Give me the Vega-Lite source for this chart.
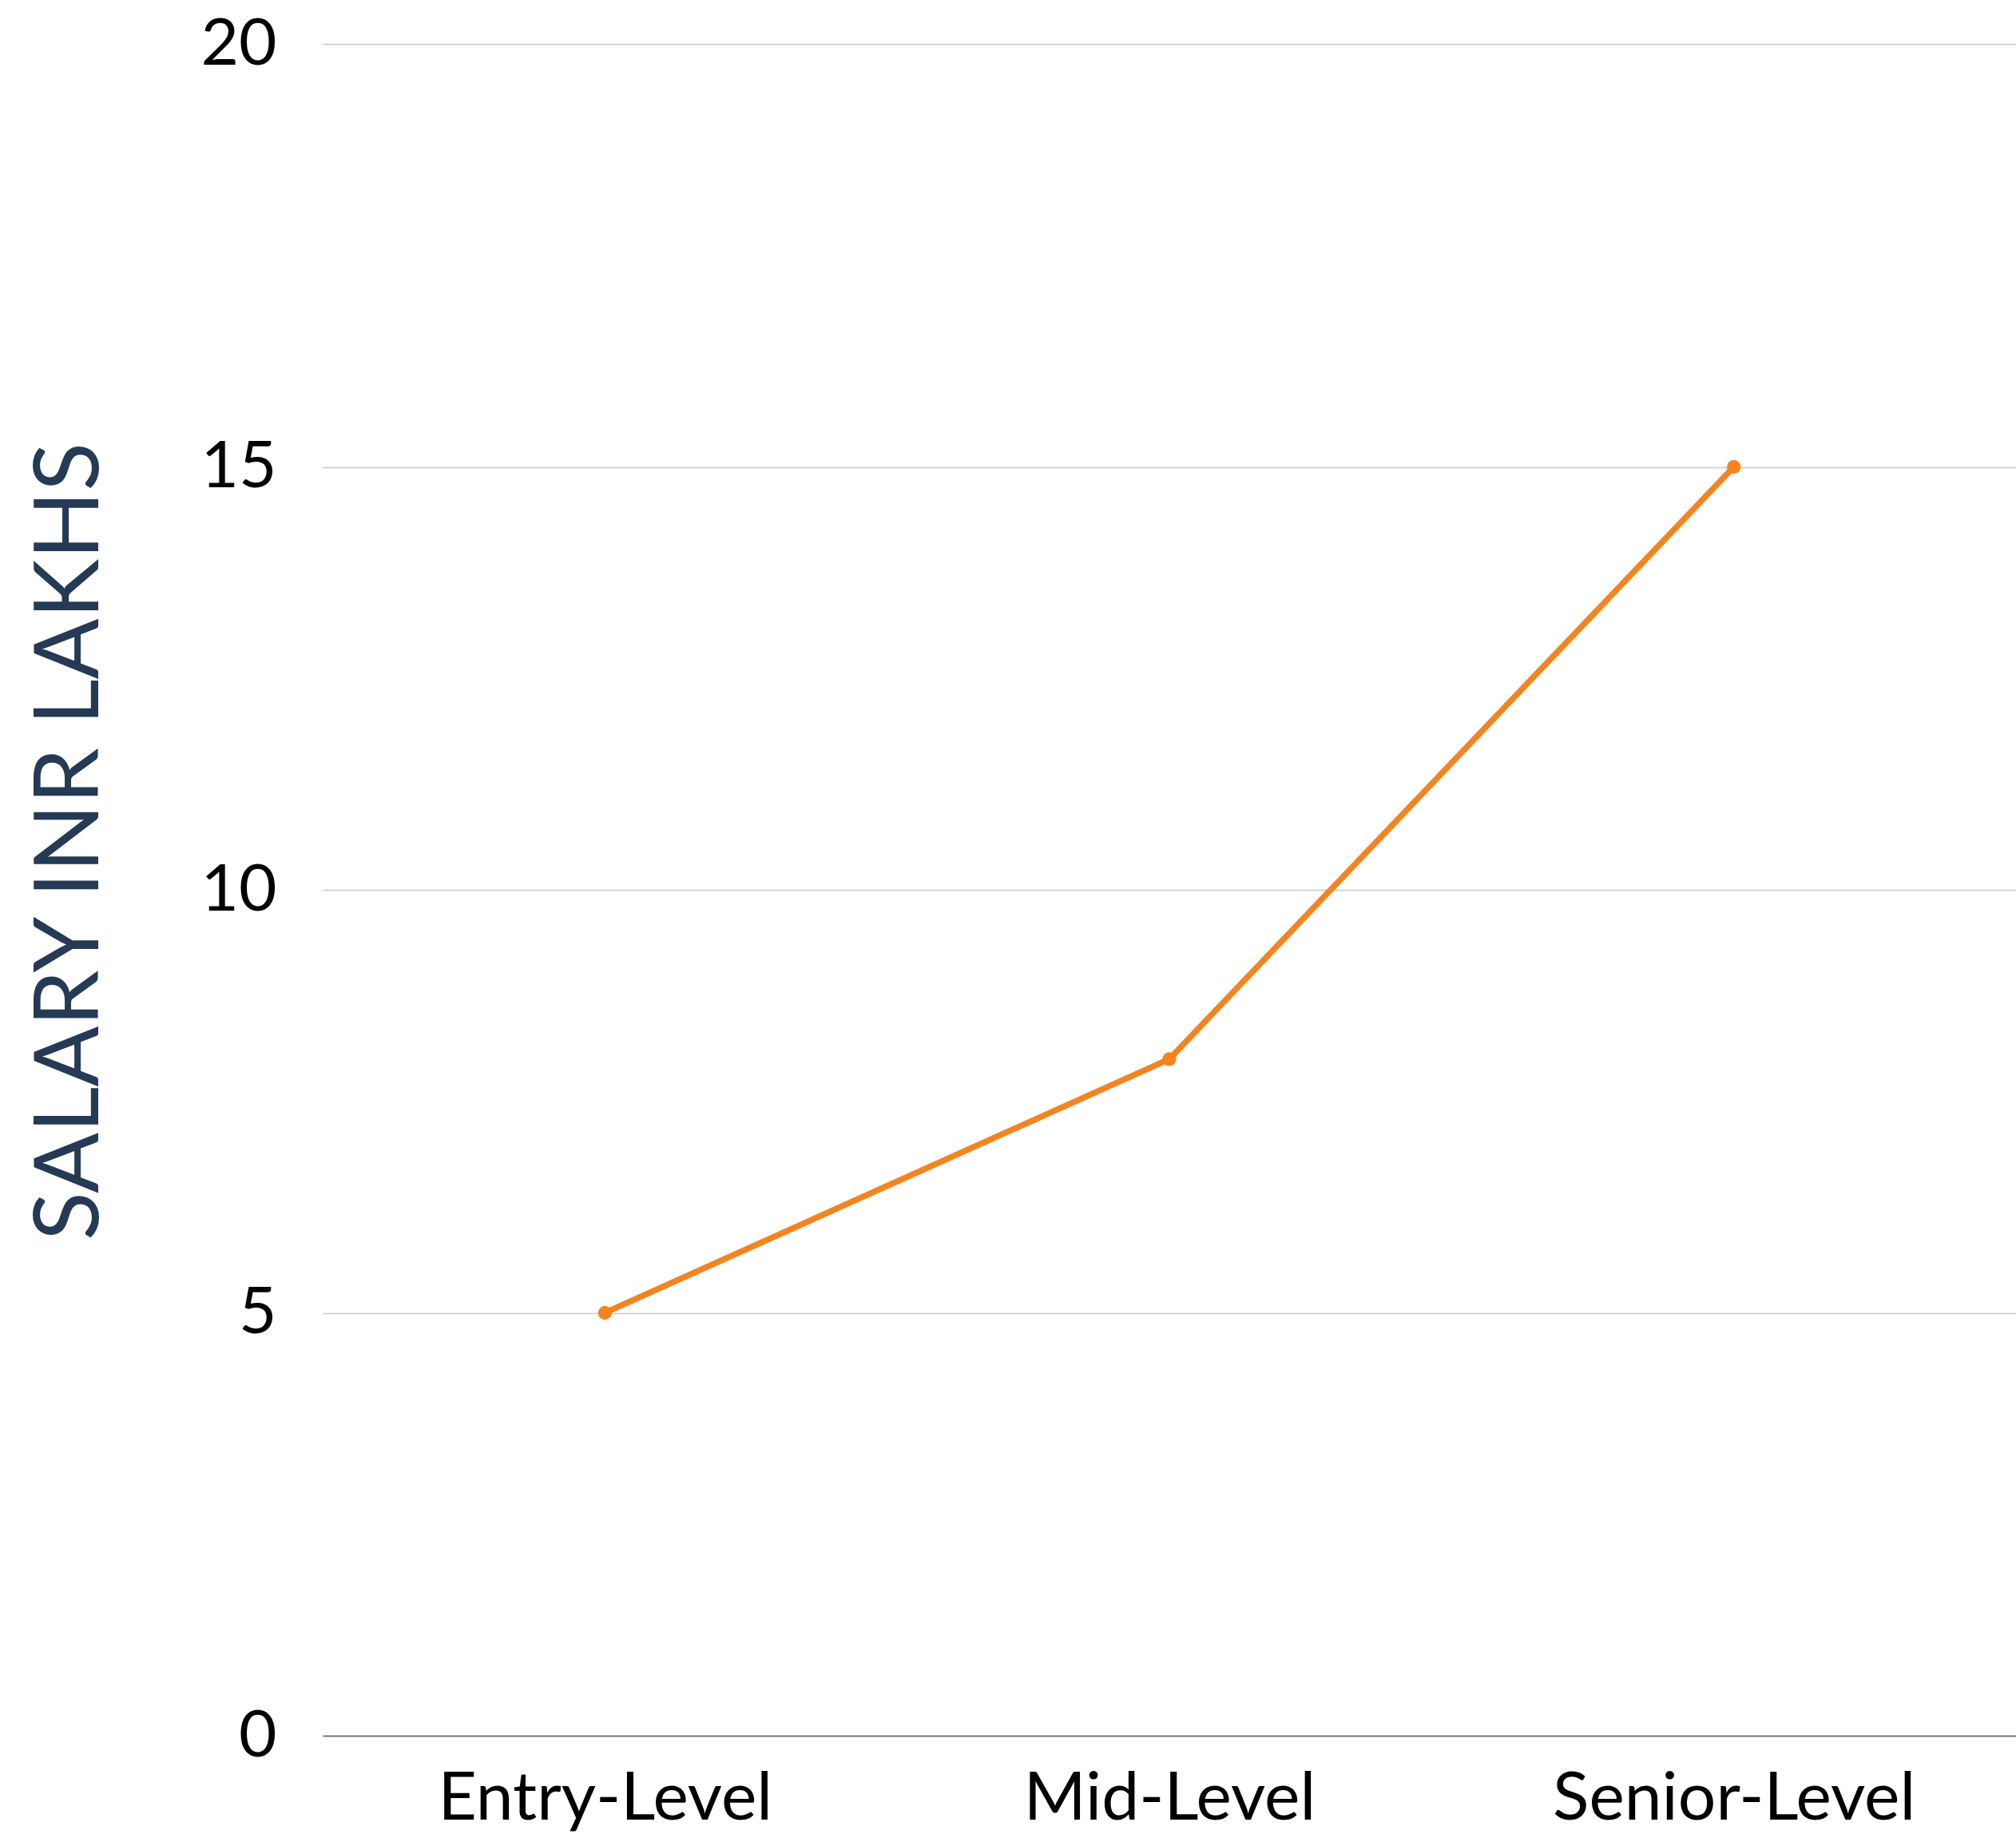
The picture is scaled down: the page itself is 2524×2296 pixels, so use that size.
{
  "$schema": "https://vega.github.io/schema/vega-lite/v6.json",
  "autosize": "none",
  "width": 2120,
  "height": 2118,
  "padding": {"left": 404, "top": 55, "right": 0, "bottom": 123},
  "background": "white",
  "config": {"view": {"stroke": null}, "font": "Lato"},
  "data": {
    "values": [
      {"level": "Entry-Level", "salary": 5},
      {"level": "Mid-Level", "salary": 8},
      {"level": "Senior-Level", "salary": 15}
    ]
  },
  "encoding": {
    "x": {
      "field": "level", "type": "ordinal", "sort": null,
      "scale": {"type": "point", "padding": 0.5},
      "axis": {
        "title": null, "labelAngle": 0, "labelFontSize": 84, "labelColor": "#000000",
        "labelFont": "Lato", "labelLimit": 0, "ticks": false, "domainColor": "#7f7f7f", "domainWidth": 2,
        "labelPadding": 38, "grid": false
      }
    },
    "y": {
      "field": "salary", "type": "quantitative",
      "scale": {"domain": [0, 20], "nice": false},
      "axis": {
        "values": [0, 5, 10, 15, 20], "title": "SALARY INR LAKHS", "titleFontSize": 112,
        "titleFont": "Lato", "titleFontWeight": "normal", "titleColor": "#253a55",
        "titlePadding": 104, "titleY": 998, "labelFontSize": 82, "labelColor": "#000000", "labelFont": "Lato",
        "labelPadding": 58, "ticks": false, "domain": false, "grid": true,
        "gridColor": "#c8c8c8", "gridWidth": 1.5
      }
    }
  },
  "layer": [
    {"mark": {"type": "line", "color": "#f5841f", "strokeWidth": 7.5}},
    {"mark": {"type": "point", "filled": true, "color": "#f5841f", "size": 300, "opacity": 1}}
  ]
}
